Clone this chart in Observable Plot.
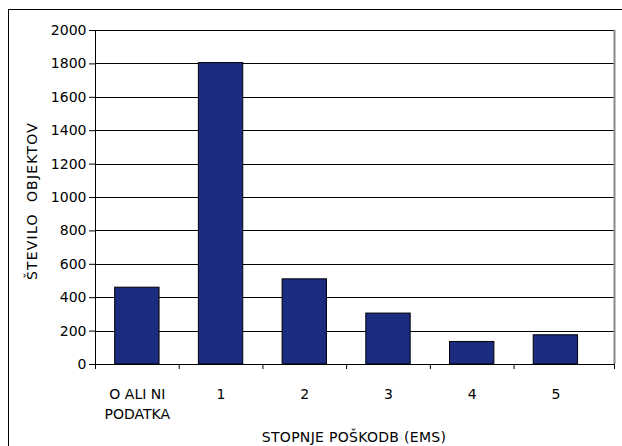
<!DOCTYPE html>
<html><head><meta charset="utf-8">
<script src="https://cdn.jsdelivr.net/npm/d3@7"></script>
<script src="https://cdn.jsdelivr.net/npm/@observablehq/plot@0.6"></script>
<style>
body{margin:0;background:#fff;}
#wrap{position:relative;width:622px;height:446px;overflow:hidden;font-family:"DejaVu Sans",sans-serif;background:#fff;}
#wrap svg{position:absolute;left:0;top:0;}
#border{position:absolute;left:8px;top:9px;width:700px;height:500px;border-top:1px solid #000;border-left:1px solid #000;}
.ttl{position:absolute;font-size:14px;line-height:14px;color:#000;white-space:pre;letter-spacing:0.3px;}
</style></head><body><div id="wrap"><div id="border"></div></div>
<script>
const categories = ["O ALI NI\nPODATKA", "1", "2", "3", "4", "5"];
const values = [460, 1805, 510, 305, 135, 175];
const yTicks = [0, 200, 400, 600, 800, 1000, 1200, 1400, 1600, 1800, 2000];
const xTitle = "STOPNJE POŠKODB (EMS)";
const yTitle = "ŠTEVILO  OBJEKTOV";

const data = categories.map((c, i) => ({i, c, v: values[i]}));
const half = 0.265;
const xEnd = categories.length - 0.3;
const boundaries = categories.map((_, i) => i - 0.5).concat([xEnd]);

const chart = Plot.plot({
  width: 622, height: 446,
  marginLeft: 95, marginRight: 8, marginTop: 30, marginBottom: 82,
  x: {domain: [-0.5, xEnd]},
  y: {domain: [0, 2000]},
  style: {fontFamily: "DejaVu Sans", fontSize: "14px", color: "#000", background: "transparent"},
  marks: [
    Plot.ruleY(yTicks, {stroke: "#000", strokeWidth: 1, shapeRendering: "crispEdges"}),
    Plot.ruleX([xEnd], {stroke: "#888", strokeWidth: 2}),
    Plot.rectY(data, {x1: d => d.i - half, x2: d => d.i + half, y: "v", fill: "#1a2b80", stroke: "#000", strokeWidth: 1}),
    Plot.ruleX([-0.5], {stroke: "#000", strokeWidth: 1, shapeRendering: "crispEdges"}),
    Plot.axisY({ticks: yTicks, tickSize: 6, tickPadding: 3, label: null, tickFormat: d => String(d), fontSize: 14, letterSpacing: "0.6px", stroke: "#000", strokeOpacity: 1}),
    Plot.axisX({ticks: boundaries, tickSize: 5, tickFormat: () => "", label: null, strokeOpacity: 1}),
    Plot.axisX({ticks: data.map(d => d.i), tickSize: 0, tickPadding: 20, tickFormat: i => categories[i], fontSize: 14, lineHeight: 1.43, label: null, letterSpacing: "0.3px"})
  ]
});
const wrap = document.getElementById("wrap");
wrap.appendChild(chart);
const xt = document.createElement("div");
xt.className = "ttl"; xt.textContent = xTitle;
xt.style.left = "354px"; xt.style.top = "430px"; xt.style.transform = "translateX(-50%)";
wrap.appendChild(xt);
const yt = document.createElement("div");
yt.className = "ttl"; yt.textContent = yTitle; yt.style.letterSpacing = "1.2px";
yt.style.left = "32px"; yt.style.top = "201px"; yt.style.transform = "translate(-50%,-50%) rotate(-90deg)";
wrap.appendChild(yt);
</script></body></html>
